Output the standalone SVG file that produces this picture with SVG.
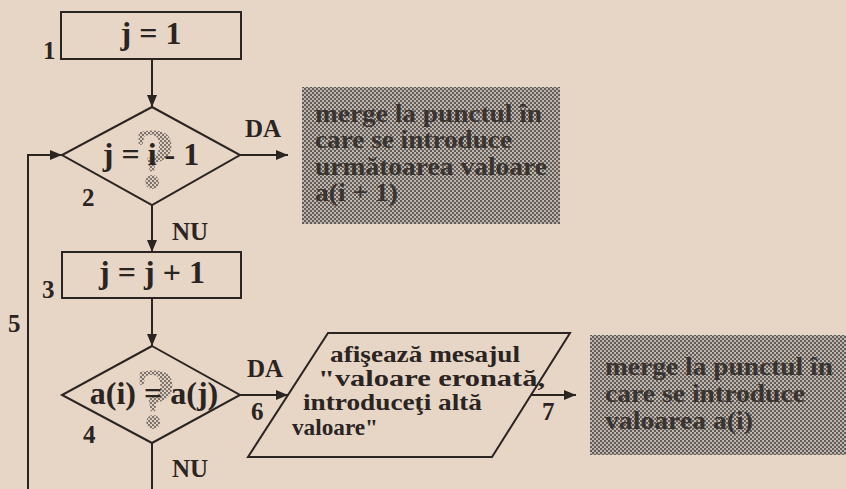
<svg xmlns="http://www.w3.org/2000/svg" width="846" height="489" viewBox="0 0 846 489">
<defs>
<style>
.ln{fill:none;stroke:#2a2422;stroke-width:2}
.shape{fill:none;stroke:#2a2422;stroke-width:2}
.t{font-family:"Liberation Serif","Times New Roman",serif;font-weight:bold;fill:#2a2422}
.main{font-size:32px;text-anchor:middle}
.lbl{font-size:25px}
.par{font-size:23px}
.gt{font-family:"Liberation Serif","Times New Roman",serif;font-weight:bold;font-size:25px;fill:#3a3431}
.q{font-family:"Liberation Serif","Times New Roman",serif;font-weight:bold;font-size:86px;text-anchor:middle;fill:url(#qdots)}
</style>
<pattern id="qdots" width="4" height="4" patternUnits="userSpaceOnUse">
<circle cx="1" cy="1" r="1.2" fill="#7a716b"/>
<circle cx="3" cy="3" r="1.2" fill="#7a716b"/>
</pattern>
<pattern id="halftone" width="4" height="4" patternUnits="userSpaceOnUse">
<rect width="4" height="4" fill="#c4bbb3"/>
<circle cx="1" cy="1" r="1.15" fill="#5d5753"/>
<circle cx="3" cy="3" r="1.15" fill="#5d5753"/>
</pattern>
<marker id="arr" viewBox="0 0 12 10" refX="12" refY="5" markerWidth="12" markerHeight="10" markerUnits="userSpaceOnUse" orient="auto">
<path d="M0,0 L12,5 L0,10 z" fill="#2a2422"/>
</marker>
</defs>
<rect width="846" height="489" fill="#e7d5c5"/>

<g id="connectors">
<line class="ln" x1="152" y1="59" x2="152" y2="107" marker-end="url(#arr)"/>
<line class="ln" x1="240" y1="155" x2="288" y2="155" marker-end="url(#arr)"/>
<line class="ln" x1="152" y1="205" x2="152" y2="252" marker-end="url(#arr)"/>
<line class="ln" x1="152" y1="298" x2="152" y2="346" marker-end="url(#arr)"/>
<polyline class="ln" points="28,489 28,155 62,155" marker-end="url(#arr)"/>
<line class="ln" x1="240" y1="395" x2="288" y2="395" marker-end="url(#arr)"/>
<line class="ln" x1="531" y1="395" x2="576" y2="395" marker-end="url(#arr)"/>
<line class="ln" x1="152" y1="443" x2="152" y2="489"/>
</g>

<g id="labels">
<text class="t lbl" x="43" y="59">1</text>
<text class="t lbl" x="82" y="206">2</text>
<text class="t lbl" x="245" y="137">DA</text>
<text class="t lbl" x="172" y="240">NU</text>
<text class="t lbl" x="42" y="298">3</text>
<text class="t lbl" x="8" y="332">5</text>
<text class="t lbl" x="247" y="377">DA</text>
<text class="t lbl" x="83" y="443">4</text>
<text class="t lbl" x="172" y="477">NU</text>
<text class="t lbl" x="251" y="420">6</text>
<text class="t lbl" x="542" y="420">7</text>
</g>

<g id="node1">
<rect class="shape" x="61" y="12" width="180" height="47"/>
<text class="t main" x="151" y="44">j = 1</text>
</g>

<g id="node2">
<polygon class="shape" points="152,107 240,155 152,205 62,155"/>
<text class="q" x="155" y="188">?</text>
<text class="t main" x="151" y="165">j = i - 1</text>
</g>

<g id="node3">
<rect class="shape" x="62" y="252" width="179" height="46"/>
<text class="t main" x="152" y="283">j = j + 1</text>
</g>

<g id="node4">
<polygon class="shape" points="152,346 240,395 152,443 62,395"/>
<text class="q" x="156" y="428">?</text>
<text class="t main" x="154" y="404">a(i) = a(j)</text>
</g>

<g id="node6">
<polygon class="shape" points="328,333 570,333 492,457 248,457"/>
<text class="t par" x="330" y="362" textLength="190" lengthAdjust="spacingAndGlyphs">afişează mesajul</text>
<text class="t par" x="318" y="386" textLength="227" lengthAdjust="spacingAndGlyphs">"valoare eronată,</text>
<text class="t par" x="303" y="410" textLength="179" lengthAdjust="spacingAndGlyphs">introduceţi altă</text>
<text class="t par" x="292" y="435" textLength="86" lengthAdjust="spacingAndGlyphs">valoare"</text>
</g>

<g id="next1">
<rect x="302" y="87" width="258" height="137" fill="url(#halftone)"/>
<text class="gt" x="315" y="122" textLength="227" lengthAdjust="spacingAndGlyphs">merge la punctul în</text>
<text class="gt" x="315" y="148" textLength="197" lengthAdjust="spacingAndGlyphs">care se introduce</text>
<text class="gt" x="315" y="175" textLength="232" lengthAdjust="spacingAndGlyphs">următoarea valoare</text>
<text class="gt" x="315" y="201" textLength="83" lengthAdjust="spacingAndGlyphs">a(i + 1)</text>
</g>

<g id="next2">
<rect x="590" y="335" width="256" height="120" fill="url(#halftone)"/>
<text class="gt" x="605" y="375" textLength="228" lengthAdjust="spacingAndGlyphs">merge la punctul în</text>
<text class="gt" x="605" y="402" textLength="200" lengthAdjust="spacingAndGlyphs">care se introduce</text>
<text class="gt" x="605" y="429" textLength="148" lengthAdjust="spacingAndGlyphs">valoarea a(i)</text>
</g>
</svg>
